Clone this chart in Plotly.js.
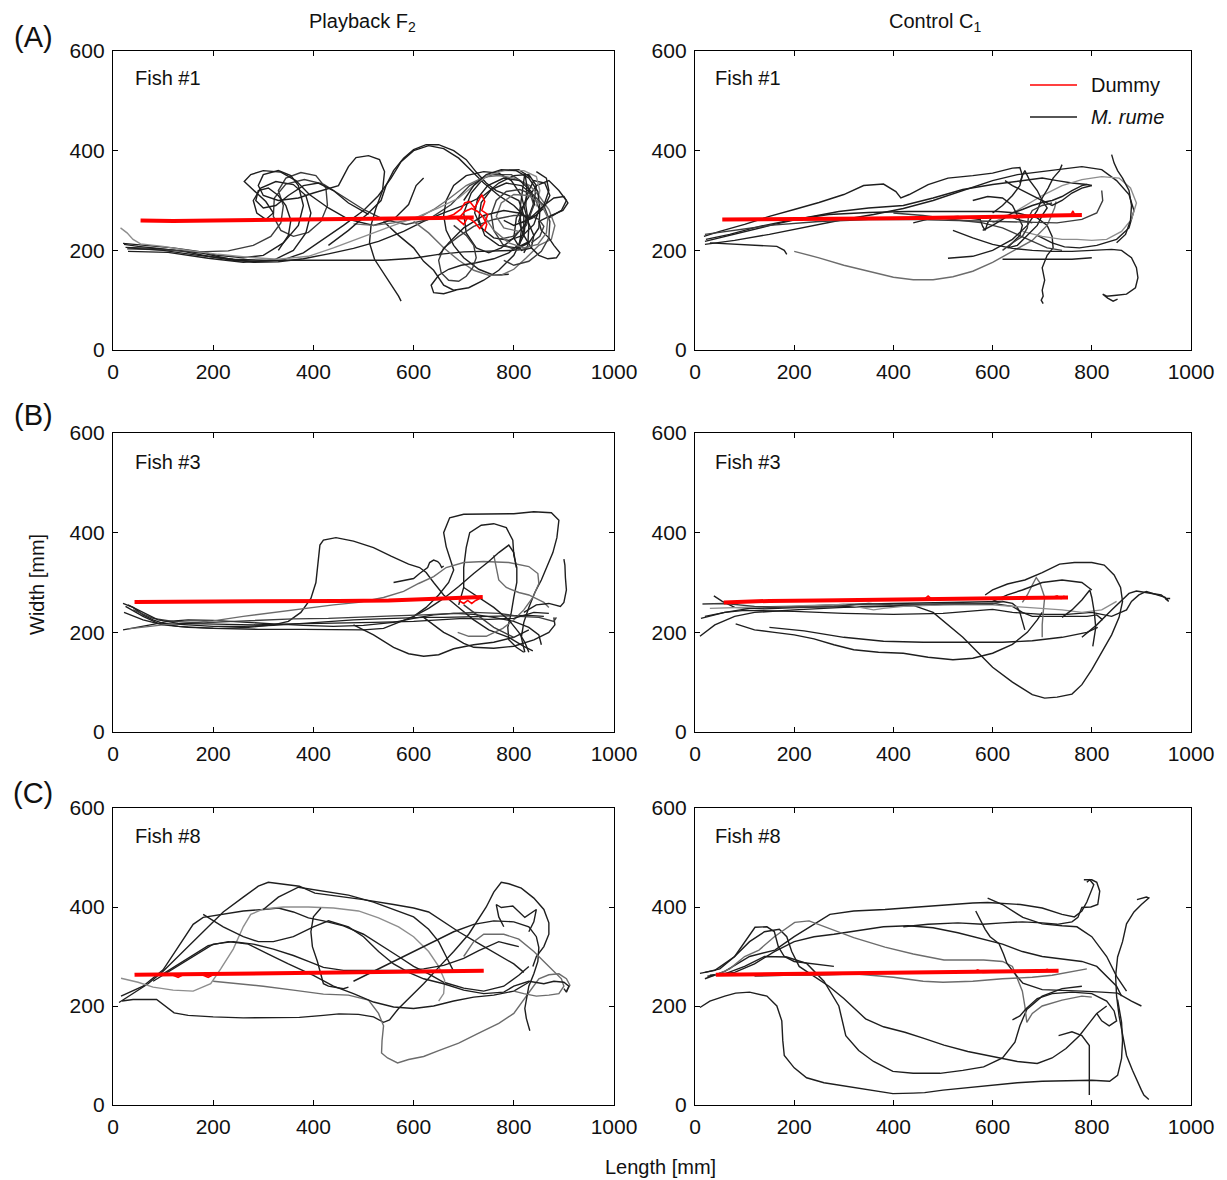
<!DOCTYPE html>
<html>
<head>
<meta charset="utf-8">
<script src="https://cdn.plot.ly/plotly-3.0.1.min.js"></script>
<style>
  html, body { margin: 0; padding: 0; background: #fff; }
  #chart { width: 1227px; height: 1180px; }
</style>
</head>
<body>
<div id="chart"></div>
<script>
// ---- axis ticks (mm) ----
const lengthTicks = [0, 200, 400, 600, 800, 1000];
const widthTicks = [0, 200, 400, 600];

// ---- column / row labels ----
const columnTitles = ['Playback F<sub>2</sub>', 'Control C<sub>1</sub>'];
const rowLabels = ['(A)', '(B)', '(C)'];
const fishLabels = ['Fish #1', 'Fish #3', 'Fish #8'];
const legendNames = ['Dummy', '<i>M. rume</i>'];

// ---- fish trajectories: each track is a flat list x0,y0,x1,y1,... (mm) ----
const playbackFish1Tracks = [
  [22,212, 50,208, 90,204, 140,198, 190,188, 240,180, 290,178, 340,181, 380,195, 420,222, 460,250, 500,280, 530,310, 555,345, 575,378, 600,400, 630,410, 660,404, 690,385, 715,360, 740,335, 770,310, 800,290, 825,265, 840,230, 835,205, 815,200, 800,225, 805,265, 825,300, 845,330, 870,340, 890,320, 905,300, 895,280, 870,265],
  [25,206, 80,204, 130,200, 180,194, 230,183, 280,176, 330,177, 380,183, 430,193, 480,204, 530,218, 580,238, 620,258, 660,275, 700,290, 740,310, 770,335, 800,350, 830,352, 845,330, 840,295, 825,255, 800,225, 775,205, 750,195, 725,205, 705,235, 700,275, 715,315, 740,345, 775,360, 810,362, 835,345],
  [28,203, 100,201, 170,197, 230,199, 280,210, 315,228, 335,255, 340,290, 330,320, 345,345, 375,356, 405,350, 425,325, 428,290, 415,258, 390,236, 360,228, 335,240, 320,268, 322,305, 345,333, 382,342, 420,333, 460,308, 500,282, 540,262, 585,252, 630,262, 675,292, 712,330, 752,352, 795,352, 828,330, 840,290, 825,250, 798,228, 770,222],
  [30,198, 110,196, 190,184, 260,176, 320,180, 360,200, 385,235, 395,275, 385,310, 360,332, 325,338, 295,325, 280,300, 287,275, 305,262, 320,275, 305,298, 275,325, 262,338, 275,352, 300,360, 335,357, 365,340, 392,312, 430,285, 470,262, 520,250, 560,262, 590,292, 605,330, 620,345],
  [20,214, 70,210, 120,205, 170,198, 210,190, 260,185, 300,190, 340,215, 370,250, 380,290, 370,330, 355,350, 330,360, 300,352, 290,330, 300,310, 330,300, 370,305, 400,315, 450,330, 470,368, 485,386, 510,390, 532,382, 542,358, 538,320, 525,285, 515,250, 512,215, 522,182, 540,155, 558,128, 570,108, 575,98],
  [30,205, 100,200, 170,190, 240,182, 300,180, 360,180, 420,180, 480,180, 540,180, 600,184, 650,192, 700,197, 750,198, 800,200, 830,215, 850,245, 852,280, 840,310, 815,330, 785,335, 755,322, 735,296, 730,262, 742,230, 770,210, 805,205, 835,220],
  [540,258, 570,230, 600,205, 620,178, 640,160, 660,130, 680,120, 710,125, 740,140, 770,160, 800,190, 820,230, 825,270, 815,310, 795,340, 770,355, 740,358, 705,350, 680,330, 665,300, 660,270, 665,240, 680,210, 700,185, 730,162, 760,150, 790,152],
  [600,258, 630,235, 660,205, 690,180, 720,160, 750,150, 775,150, 800,162, 825,185, 850,210, 875,222, 882,250, 870,282, 850,310, 832,330, 800,345, 770,350, 740,347, 705,330, 670,303, 640,282, 610,265, 560,255, 520,250, 480,253],
  [780,260, 800,250, 830,262, 860,290, 880,305, 900,308, 908,295, 898,280, 875,270, 850,258, 855,240, 870,225, 880,210, 892,195, 885,185, 868,183, 850,190, 835,205, 820,230, 810,258, 820,290, 830,320, 840,340, 862,335, 872,310, 860,285, 838,265, 815,255],
  [430,210, 470,240, 510,275, 535,300, 545,330, 560,360, 580,385, 600,402, 625,412, 650,412, 680,400, 705,382, 725,357, 745,335, 765,320, 790,310, 810,300, 820,270, 820,240, 810,212, 790,195, 760,183, 725,175, 695,170, 670,162, 650,150, 635,130, 640,115, 660,113, 685,120],
  [15,245, 28,235, 40,222, 55,213, 100,208, 150,200, 210,192, 270,186, 330,182, 390,188, 440,205, 500,228, 560,250, 610,268, 650,285, 690,305, 720,330, 748,350, 780,360, 820,360, 845,348, 852,320, 845,288],
  [680,250, 705,230, 720,210, 725,185, 718,165, 705,148, 690,138, 670,140, 655,155, 650,180, 660,205, 690,228, 720,248, 760,262, 800,270, 830,270, 850,262, 860,248, 852,228, 835,215],
  [810,200, 815,240, 812,280, 818,320, 822,355, 826,330, 824,290, 830,250, 828,210, 820,195],
  [700,300, 720,330, 745,352, 775,362, 805,360, 830,345, 848,318, 852,285, 840,252, 818,230, 790,220, 760,225, 735,245, 722,275, 728,305, 748,330, 780,345, 812,340, 835,318, 842,290],
  [780,180, 800,170, 830,178, 855,198, 870,225, 872,258, 860,290, 838,312, 812,322, 785,318, 765,300, 755,272, 760,240, 778,212, 805,200, 830,205],
  [740,270, 760,240, 790,215, 820,205, 848,212, 865,235, 868,265, 855,292, 830,310, 800,312, 775,295, 765,268, 780,245, 810,238],
  [650,190, 670,215, 700,245, 740,270, 780,280, 810,275, 830,265, 845,270, 860,290, 870,320, 865,345, 845,358],
  [330,200, 350,230, 355,260, 345,290, 330,310, 310,325, 290,320, 285,300, 300,285, 325,290, 350,310, 380,330, 410,335, 440,320, 470,295, 510,272]
];
const playbackFish1Dummy = [55,260, 120,259, 200,260, 300,261, 400,262, 500,262, 600,264, 650,265, 690,266, 720,266];
const playbackFish1DummyWiggle = [660,265, 680,272, 695,283, 702,295, 712,298, 722,285, 730,300, 736,312, 742,298, 736,280, 748,272, 742,255, 732,244, 722,256, 708,266, 700,252, 688,262, 702,278, 716,284, 728,278, 738,268, 746,252, 742,238];

const controlFish1Tracks = [
  [18,228, 50,238, 100,252, 150,268, 200,282, 250,296, 300,312, 340,330, 380,333, 405,318, 415,305, 432,312, 470,332, 510,345, 560,350, 600,355, 640,365, 655,366, 660,350, 655,335],
  [20,218, 60,228, 110,240, 160,252, 220,265, 290,278, 350,285, 420,290, 480,305, 540,322, 600,332, 650,338, 700,345, 730,340, 760,335, 790,332, 800,330],
  [22,222, 70,232, 130,248, 200,262, 270,272, 350,276, 430,278, 500,278, 560,278, 610,278, 650,275, 690,265, 710,250, 720,228, 722,205, 710,190, 700,165, 705,140, 700,120, 702,108, 698,100, 702,93],
  [200,198, 250,185, 300,170, 350,158, 400,146, 440,141, 480,141, 520,147, 560,158, 600,176, 640,198, 680,220, 710,250, 725,285, 728,298],
  [20,212, 80,220, 150,232, 230,248, 300,262, 360,272, 420,284, 480,300, 540,320, 600,340, 650,352, 700,358, 740,362, 780,368, 820,362, 850,340, 875,312, 885,280, 875,245, 850,222, 810,210, 775,205, 745,207, 720,215, 690,230],
  [600,255, 650,280, 700,310, 740,330, 780,342, 820,348, 855,345, 878,325, 890,295, 880,262, 860,238, 830,222, 800,220, 770,222, 740,222, 700,228, 660,238],
  [520,240, 560,225, 600,212, 640,204, 680,200, 720,198, 760,198, 800,200, 840,202, 860,200, 880,185, 890,165, 893,145, 888,125, 870,112, 850,110, 830,108, 822,112, 832,104, 843,98, 852,102],
  [30,215, 80,212, 130,210, 165,208, 180,200, 185,192],
  [840,392, 845,375, 852,360, 862,345, 875,320, 880,290, 878,260, 868,232, 850,215],
  [400,275, 460,270, 520,262, 580,255, 620,245, 650,232, 680,218, 710,205, 740,200],
  [510,184, 560,188, 600,200, 640,222, 670,250, 690,280, 700,305, 712,325, 722,345, 735,360, 740,372],
  [620,182, 660,182, 700,182, 720,182, 760,182, 800,185],
  [560,300, 590,308, 620,305, 640,290, 650,270, 660,250, 655,230, 640,215, 630,205, 650,210, 670,230, 690,250, 700,270, 710,285, 700,300, 680,310, 660,320, 640,330, 625,340],
  [440,255, 480,265, 530,268, 575,262, 580,248, 585,240, 590,255, 600,268, 630,270, 650,262, 680,255],
  [20,232, 80,240, 150,250, 250,258, 350,262, 450,262, 550,260, 620,258, 680,256, 730,255, 780,262, 810,275, 822,300, 820,320],
  [600,275, 620,290, 640,310, 655,330, 660,350, 665,360, 675,340, 690,320, 700,300, 720,290, 740,300, 760,315, 780,325, 800,330],
  [580,240, 600,250, 620,262, 640,275, 660,282, 680,290, 700,296, 720,300, 740,308, 760,320, 780,330, 790,332],
  [620,200, 640,215, 660,228, 670,245, 672,265, 680,280, 700,290, 720,295]
];
const controlFish1Dummy = [55,262, 150,262, 250,263, 350,264, 450,265, 550,266, 650,268, 720,270, 760,271, 780,271];
const controlFish1DummyWiggle = [750,270, 758,271, 762,279, 766,270, 772,272];

const playbackFish3Tracks = [
  [20,258, 40,250, 60,235, 80,225, 100,218, 150,215, 200,212, 260,212, 320,214, 380,218, 430,222, 480,225, 530,227, 580,229, 620,230, 660,230, 700,231, 740,232, 790,232, 830,234, 860,232],
  [20,205, 50,210, 80,216, 110,222, 150,225, 200,224, 260,220, 320,217, 380,214, 440,212, 500,214, 560,220, 600,228, 640,235, 680,238, 720,236, 760,230, 800,222, 830,210, 850,195, 855,175],
  [22,240, 60,225, 100,215, 150,210, 210,208, 270,210, 320,215, 350,222, 375,240, 395,268, 405,300, 410,340, 413,375, 420,385, 445,390, 480,383, 520,370, 555,353, 590,337, 612,330, 625,320, 640,300, 660,275, 690,250, 720,225, 750,205, 790,190, 820,172, 838,163],
  [25,252, 60,232, 90,218, 130,212, 200,208, 290,206, 380,206, 440,205, 500,205, 540,208, 570,220, 600,232, 625,250, 650,275, 670,300, 680,325, 672,350, 665,372, 660,400, 672,430, 700,437, 750,437, 800,438, 840,442, 875,440, 890,425, 886,390, 878,360, 865,330, 855,305, 842,280, 830,250, 820,220, 815,190, 822,160],
  [620,230, 640,215, 660,200, 680,190, 700,178, 720,170, 760,168, 800,172, 840,185, 870,200, 882,215, 880,230],
  [480,215, 520,195, 560,170, 590,157, 620,152, 650,155, 680,167, 720,175, 760,180, 800,190, 830,205],
  [690,255, 700,290, 700,330, 705,370, 712,400, 735,415, 760,418, 785,410, 798,385, 800,355, 806,330, 806,300, 800,270, 795,240, 788,210, 790,185, 805,170, 820,160],
  [30,207, 100,215, 160,220, 200,223, 260,232, 320,240, 380,248, 440,255, 490,260, 540,270, 580,282, 610,298, 640,312, 665,330, 700,340, 740,342, 790,340, 830,332, 848,318, 850,298, 838,270, 820,245, 800,225, 778,208, 745,192, 710,192, 688,200],
  [760,355, 765,330, 770,305, 785,290, 810,280, 830,275, 845,268, 860,260, 870,250],
  [600,232, 630,248, 660,268, 690,292, 720,318, 750,342, 770,360, 790,375, 800,360, 805,330],
  [820,240, 845,255, 870,258, 893,252, 900,260, 905,285, 903,310, 902,335, 900,347],
  [560,300, 575,303, 590,306, 600,308, 612,318, 622,325, 628,330, 632,340, 640,345, 648,342, 652,338, 656,330, 660,333],
  [40,245, 80,228, 120,222, 180,219, 240,222, 300,225, 360,227, 430,228, 500,230, 560,233, 620,235, 680,238, 720,240, 770,238, 810,232, 850,230, 880,222, 885,230],
  [700,290, 730,270, 760,250, 790,225, 810,200, 822,180, 830,160],
  [30,255, 60,240, 90,225, 130,218, 200,216, 280,215, 360,217, 440,218, 520,220, 600,222, 650,225, 700,228, 750,226, 800,228, 840,240, 870,238],
  [700,255, 720,240, 740,225, 760,210, 780,200, 800,190]
];
const playbackFish3Dummy = [43,261, 150,261, 250,262, 350,262, 450,263, 550,264, 650,267, 700,268, 738,271];
const playbackFish3DummyWiggle = [690,264, 700,258, 708,264, 716,258, 724,264, 732,268];

const controlFish3Tracks = [
  [10,192, 40,215, 80,232, 120,240, 200,245, 300,250, 400,252, 500,256, 600,258, 640,252, 660,240, 680,232, 720,232, 760,232, 790,232, 810,235, 822,225],
  [12,228, 60,240, 110,248, 200,252, 300,256, 400,258, 500,260, 580,262, 620,262, 640,258, 650,250, 655,240, 660,220, 665,205],
  [38,273, 55,262, 80,250, 140,247, 220,250, 300,252, 380,254, 440,254, 480,240, 510,215, 540,190, 570,160, 600,130, 640,100, 680,75, 705,68, 730,70, 760,76, 780,95, 800,125, 820,160, 840,195, 855,230, 862,262, 858,290, 845,315, 825,335, 800,340, 765,340, 735,337, 700,320, 665,305, 630,297, 600,285, 585,275],
  [82,217, 120,205, 160,200, 200,195, 240,187, 280,175, 320,165, 370,160, 420,158, 470,150, 520,145, 560,148, 600,158, 640,176, 670,200, 690,225, 700,240],
  [150,210, 220,203, 300,190, 380,182, 460,180, 540,180, 620,180, 680,183, 740,190, 790,200, 812,210],
  [20,232, 60,240, 100,244, 200,242, 300,238, 400,236, 500,238, 560,243, 600,246, 640,240, 700,236, 750,236, 800,240, 840,232, 870,245, 880,262, 895,275, 910,282, 930,276, 948,270, 955,262, 948,268, 958,268],
  [780,190, 810,215, 840,245, 860,265, 875,278, 890,283, 910,280, 940,275, 953,265],
  [660,260, 670,275, 680,295, 688,310, 695,300, 700,285, 705,270, 702,240, 700,215, 700,190],
  [30,248, 100,250, 200,254, 300,256, 360,245, 380,248, 420,252, 500,255, 600,255, 680,250, 740,245, 780,240, 820,245, 850,262],
  [740,230, 760,245, 780,265, 796,285, 800,270, 805,240, 808,210, 805,185, 802,172],
  [600,262, 630,275, 660,285, 700,300, 740,305, 780,300, 800,285],
  [15,257, 60,258, 120,252, 200,250, 280,252, 350,258, 400,255, 460,257, 520,258, 600,257, 620,262]
];
const controlFish3Dummy = [58,260, 150,263, 250,264, 350,265, 450,266, 550,267, 650,268, 720,269, 752,270];
const controlFish3DummyWiggle = [462,266, 470,273, 478,266, 720,270, 730,273, 738,268, 745,273];

const playbackFish8Tracks = [
  [12,207, 40,225, 70,245, 100,270, 140,310, 180,350, 220,390, 260,420, 290,442, 310,450, 340,446, 372,442, 403,428, 450,422, 500,415, 560,405, 600,398, 630,390, 660,370, 690,350, 720,332, 750,315, 775,300, 800,285, 820,268],
  [16,220, 60,240, 100,273, 130,320, 160,365, 180,379, 220,385, 260,392, 300,395, 330,398, 360,390, 390,378, 420,372, 460,362, 500,345, 540,320, 570,300, 600,280, 630,265, 660,248, 700,236, 740,230, 780,240, 810,262, 830,280],
  [16,256, 50,248, 80,238, 120,232, 160,230, 195,245, 215,275, 240,315, 260,360, 275,385, 300,396, 340,400, 390,400, 440,398, 490,392, 530,378, 570,360, 600,340, 630,310, 650,280, 662,252, 660,225, 650,210],
  [18,210, 40,213, 87,213, 105,200, 122,186, 150,181, 200,178, 260,176, 320,176, 372,177, 420,181, 451,184, 490,183, 520,178, 540,167, 552,172, 570,195, 590,215, 620,245, 650,278, 680,310, 710,345, 730,375, 745,400, 760,430, 775,450, 790,447, 815,438, 840,418, 860,395, 870,368, 870,345, 860,320, 845,300, 838,280],
  [200,250, 250,245, 300,240, 360,232, 420,224, 470,222, 510,212, 530,185, 540,160, 537,130, 536,105, 548,95, 568,85, 590,92, 620,98, 650,110, 690,125, 730,145, 770,165, 800,185, 822,215, 835,235, 850,255, 870,263, 890,265, 905,255, 912,242, 905,230],
  [80,250, 120,275, 160,300, 200,325, 240,330, 280,325, 320,315, 360,302, 390,290, 420,278, 460,272, 500,272, 540,272, 580,272, 620,275, 660,282, 700,296, 730,312, 770,330, 810,320],
  [100,265, 140,290, 190,322, 230,330, 270,325, 310,305, 350,285, 400,262, 440,240, 480,225, 520,208, 560,198, 600,195, 640,200, 680,210, 720,218, 760,222, 800,230, 830,248],
  [415,398, 400,380, 395,350, 398,320, 408,290, 415,265, 420,245, 430,240, 445,238, 460,235, 470,238],
  [780,360, 770,380, 765,405, 775,399, 798,402, 822,379, 845,395, 840,370, 830,350],
  [480,250, 520,270, 560,290, 600,310, 640,330, 680,350, 720,365, 760,372, 800,370, 830,360, 845,340, 850,318, 848,290, 840,265, 830,240, 825,215, 822,195, 825,175, 830,160, 832,150],
  [300,395, 330,420, 370,440, 420,432, 470,424, 520,410, 560,395, 600,380, 630,355, 650,330, 665,300, 680,270],
  [700,300, 720,330, 740,345, 780,345, 810,335, 840,310, 860,290, 880,270, 895,255, 900,240, 890,225, 870,222, 845,220, 820,225, 800,230],
  [180,385, 220,360, 260,340, 290,330, 320,330, 360,340, 400,360, 430,372, 470,360, 500,340, 530,310, 560,285, 590,268, 620,255, 660,245, 700,232, 740,225, 780,228, 800,240, 830,250, 860,245, 880,250, 900,248, 910,240, 905,228, 900,235]
];
const playbackFish8Dummy = [43,263, 150,264, 250,265, 350,266, 450,267, 550,268, 650,270, 700,271, 740,271];
const playbackFish8DummyWiggle = [120,262, 130,258, 140,263, 180,262, 190,258, 200,263];

const controlFish8Tracks = [
  [10,197, 30,210, 60,220, 82,226, 110,228, 145,220, 165,200, 175,170, 177,130, 180,100, 200,75, 225,55, 260,45, 304,38, 350,30, 399,23, 440,24, 463,25, 500,30, 542,34, 600,40, 650,45, 700,48, 760,50, 800,50, 836,48, 852,60, 860,94, 862,130, 860,167, 855,200, 852,213],
  [10,266, 40,272, 80,300, 110,330, 140,350, 170,355, 185,340, 195,310, 210,280, 240,260, 270,240, 300,215, 344,174, 380,158, 423,147, 460,135, 502,121, 550,108, 600,98, 621,94, 650,88, 690,84, 720,95, 748,114, 775,140, 796,167, 810,185, 830,200],
  [20,255, 60,270, 110,300, 161,313, 200,340, 240,365, 272,385, 320,392, 383,395, 450,400, 510,405, 560,408, 590,409, 630,407, 656,405, 700,398, 740,385, 765,380, 780,392, 790,410, 798,430, 804,445, 796,455, 790,450],
  [25,260, 60,265, 100,280, 140,300, 185,299, 225,286, 260,250, 290,200, 304,140, 330,110, 360,88, 399,68, 440,64, 494,64, 540,70, 582,77, 620,95, 645,127, 655,160, 669,193, 700,220, 740,235, 780,240],
  [30,262, 80,268, 120,285, 160,310, 200,330, 240,340, 280,345, 330,352, 380,360, 430,362, 480,358, 530,348, 580,335, 620,325, 660,310, 700,300, 740,295, 780,290, 810,280, 830,260, 850,240, 860,220],
  [40,262, 70,275, 100,300, 129,313, 160,340, 201,369, 230,372, 272,356, 320,338, 383,319, 440,305, 502,293, 550,293, 582,293, 620,290, 640,280, 650,255, 660,230, 665,200, 669,167, 680,185, 700,200, 740,212, 780,220, 800,218],
  [590,418, 620,405, 661,379, 700,366, 740,362, 770,360, 800,340, 830,300, 850,260, 870,230],
  [566,392, 575,375, 585,355, 595,340, 613,326, 622,305, 629,286, 645,265, 661,246, 700,233, 740,232, 780,230, 820,228, 852,226, 880,210, 900,200],
  [891,415, 910,420, 915,418, 900,405, 885,390, 870,366, 862,330, 852,299, 848,260, 850,220, 855,180, 862,140, 870,100, 882,70, 891,48, 900,30, 905,20, 915,11],
  [784,455, 800,455, 810,450, 816,432, 812,405, 798,400, 780,399, 772,379, 760,370, 730,365, 700,368, 660,370, 620,368, 580,365, 530,368, 470,365, 420,360],
  [20,268, 50,275, 80,300, 100,330, 121,359, 145,360, 160,350, 168,320, 180,300, 200,290, 240,285, 280,280],
  [120,260, 180,262, 250,262, 320,265, 400,258, 460,250, 500,248, 560,250, 620,255, 680,258, 720,262, 760,270, 790,275],
  [640,172, 655,180, 668,195, 690,215, 720,225, 760,228, 800,225, 830,210, 845,190, 850,170, 835,160, 820,170, 810,185],
  [733,140, 760,148, 780,140, 795,120, 795,80, 795,50, 795,20]
];
const controlFish8Dummy = [42,263, 150,264, 250,265, 350,266, 450,267, 550,268, 650,270, 700,271, 733,271];
const controlFish8DummyWiggle = [560,268, 570,273, 580,268, 700,271, 710,274, 720,270];

// ---- styling ----
const FONT = 'Liberation Sans, Arial, Helvetica, sans-serif';
const TONES = { k: '#1e1e1e', d: '#3c3c3c', g: '#6c6c6c', l: '#8e8e8e' };
const RED = '#ff0000';

const panels = [
  { tracks: playbackFish1Tracks, dummy: playbackFish1Dummy, wiggle: playbackFish1DummyWiggle, tones: 'kkdkkkkgkkldkkdgkk', xa: 'x',  ya: 'y'  },
  { tracks: controlFish1Tracks,  dummy: controlFish1Dummy,  wiggle: controlFish1DummyWiggle,  tones: 'kkkgklkkkdkkkkdkkd', xa: 'x2', ya: 'y2' },
  { tracks: playbackFish3Tracks, dummy: playbackFish3Dummy, wiggle: playbackFish3DummyWiggle, tones: 'kkkkkkkggkkkdkkd',   xa: 'x3', ya: 'y3' },
  { tracks: controlFish3Tracks,  dummy: controlFish3Dummy,  wiggle: controlFish3DummyWiggle,  tones: 'kkkkkkkglkkd',       xa: 'x4', ya: 'y4' },
  { tracks: playbackFish8Tracks, dummy: playbackFish8Dummy, wiggle: playbackFish8DummyWiggle, tones: 'kklkgkkkkkkgk',      xa: 'x5', ya: 'y5' },
  { tracks: controlFish8Tracks,  dummy: controlFish8Dummy,  wiggle: controlFish8DummyWiggle,  tones: 'kkkkkgkkkkkgkk',     xa: 'x6', ya: 'y6' }
];

function splitXY(flat) {
  const xs = [], ys = [];
  for (let i = 0; i < flat.length; i += 2) { xs.push(flat[i]); ys.push(flat[i + 1]); }
  return { xs, ys };
}

const traces = [];
panels.forEach(p => {
  p.tracks.forEach((t, i) => {
    const { xs, ys } = splitXY(t);
    traces.push({
      type: 'scatter', mode: 'lines', x: xs, y: ys, xaxis: p.xa, yaxis: p.ya,
      line: { color: TONES[p.tones[i] || 'k'], width: 1.4 },
      showlegend: false, hoverinfo: 'skip'
    });
  });
  const d = splitXY(p.dummy);
  traces.push({
    type: 'scatter', mode: 'lines', x: d.xs, y: d.ys, xaxis: p.xa, yaxis: p.ya,
    line: { color: RED, width: 4 }, showlegend: false, hoverinfo: 'skip'
  });
  const w = splitXY(p.wiggle);
  traces.push({
    type: 'scatter', mode: 'lines', x: w.xs, y: w.ys, xaxis: p.xa, yaxis: p.ya,
    line: { color: RED, width: 1.6 }, showlegend: false, hoverinfo: 'skip'
  });
});

// page-pixel helpers for placing frames and labels
const W = 1227, H = 1180;
const px = v => v / W;
const py = v => 1 - v / H;

const colX = [[113, 614], [695, 1191]];
const rowY = [[51, 350], [433, 732], [808, 1105]];
const TICK_SIZE = 21;
const TEXT_SIZE = 20;

function xAxis(col) {
  return {
    domain: [px(colX[col][0]), px(colX[col][1])], range: [0, 1000],
    tickvals: lengthTicks, ticktext: lengthTicks.map(String),
    ticks: 'inside', ticklen: 5, tickwidth: 1, tickcolor: '#000',
    showline: true, linecolor: '#000', linewidth: 1.2, mirror: 'ticks',
    showgrid: false, zeroline: false, ticklabelstandoff: 3,
    tickfont: { family: FONT, size: TICK_SIZE, color: '#111' }, fixedrange: true
  };
}
function yAxis(row) {
  return {
    domain: [py(rowY[row][1]), py(rowY[row][0])], range: [0, 600],
    tickvals: widthTicks, ticktext: widthTicks.map(String),
    ticks: 'inside', ticklen: 5, tickwidth: 1, tickcolor: '#000',
    showline: true, linecolor: '#000', linewidth: 1.2, mirror: 'ticks',
    showgrid: false, zeroline: false, ticklabelstandoff: 3,
    tickfont: { family: FONT, size: TICK_SIZE, color: '#111' }, fixedrange: true
  };
}

const layout = {
  width: W, height: H,
  margin: { l: 0, r: 0, t: 0, b: 0 },
  paper_bgcolor: '#fff', plot_bgcolor: '#fff',
  showlegend: false,
  font: { family: FONT, color: '#111' },
  shapes: [],
  annotations: []
};

const axisNames = [['xaxis', 'yaxis'], ['xaxis2', 'yaxis2'], ['xaxis3', 'yaxis3'],
                   ['xaxis4', 'yaxis4'], ['xaxis5', 'yaxis5'], ['xaxis6', 'yaxis6']];
axisNames.forEach((n, i) => {
  const row = Math.floor(i / 2), col = i % 2;
  layout[n[0]] = Object.assign(xAxis(col), { anchor: 'y' + (i ? i + 1 : '') });
  layout[n[1]] = Object.assign(yAxis(row), { anchor: 'x' + (i ? i + 1 : '') });
});

const ann = (text, x, y, size, extra) => Object.assign({
  text, x: px(x), y: py(y), xref: 'paper', yref: 'paper', showarrow: false,
  font: { family: FONT, size, color: '#111' }, xanchor: 'center', yanchor: 'middle'
}, extra || {});

// column titles
layout.annotations.push(ann(columnTitles[0], 363, 22, TEXT_SIZE));
layout.annotations.push(ann(columnTitles[1], 935, 22, TEXT_SIZE));
// row letters
[37, 415, 793].forEach((y, r) => layout.annotations.push(ann(rowLabels[r], 33, y, 29)));
// fish labels
[78, 462, 836].forEach((y, r) => {
  layout.annotations.push(ann(fishLabels[r], 133, y, TEXT_SIZE, { xanchor: 'left' }));
  layout.annotations.push(ann(fishLabels[r], 713, y, TEXT_SIZE, { xanchor: 'left' }));
});
// axis titles
layout.annotations.push(ann('Width [mm]', 37, 585, TEXT_SIZE, { textangle: -90 }));
layout.annotations.push(ann('Length [mm]', 660, 1167, TEXT_SIZE));

// legend drawn in the top-right panel
layout.shapes.push({ type: 'line', xref: 'paper', yref: 'paper', x0: px(1030), x1: px(1077), y0: py(85), y1: py(85), line: { color: RED, width: 1.6 } });
layout.shapes.push({ type: 'line', xref: 'paper', yref: 'paper', x0: px(1030), x1: px(1077), y0: py(117), y1: py(117), line: { color: '#1e1e1e', width: 1.6 } });
layout.annotations.push(ann(legendNames[0], 1089, 85, TEXT_SIZE, { xanchor: 'left' }));
layout.annotations.push(ann(legendNames[1], 1089, 117, TEXT_SIZE, { xanchor: 'left' }));

Plotly.newPlot('chart', traces, layout, { displayModeBar: false, staticPlot: true });
</script>
</body>
</html>
